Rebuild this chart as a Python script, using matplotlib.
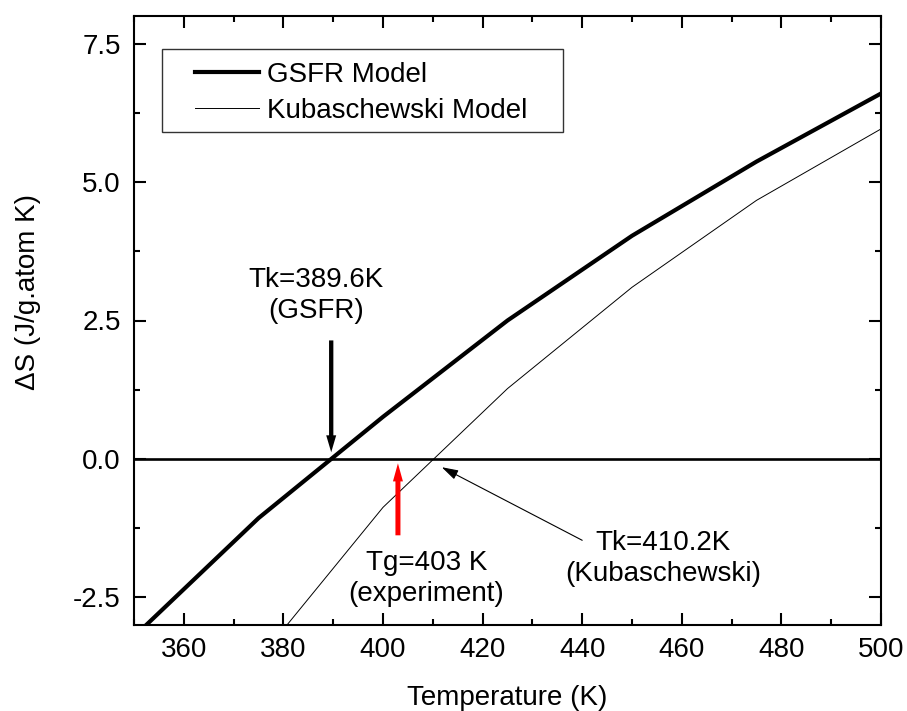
import matplotlib
matplotlib.use("Agg")
import matplotlib.pyplot as plt
from matplotlib.ticker import MultipleLocator
from matplotlib.patches import Rectangle

plt.rcParams['font.family'] = ['Liberation Sans', 'DejaVu Sans']
plt.rcParams['axes.unicode_minus'] = False

# Configurational entropy difference vs temperature
temp_gsfr = [350, 375, 400, 425, 450, 475, 500]
ds_gsfr = [-3.21, -1.07, 0.76, 2.50, 4.03, 5.37, 6.60]

temp_kub = [375, 400, 425, 450, 475, 500]
ds_kub = [-3.63, -0.875, 1.27, 3.10, 4.67, 5.96]

tk_gsfr = 389.6
tk_kub = 410.2
tg_exp = 403

fig = plt.figure(figsize=(9.07, 7.11), dpi=100)
ax = fig.add_axes([134 / 907, 1 - 625 / 711, 747 / 907, 609 / 711])

ax.axhline(0, color='black', lw=1.9, zorder=1)
ax.plot(temp_gsfr, ds_gsfr, color='black', lw=3.0, label='GSFR Model', zorder=3)
ax.plot(temp_kub, ds_kub, color='black', lw=0.7, label='Kubaschewski Model', zorder=3)

ax.set_xlim(350, 500)
ax.set_ylim(-3, 8)
ax.xaxis.set_major_locator(MultipleLocator(20))
ax.xaxis.set_minor_locator(MultipleLocator(10))
ax.yaxis.set_major_locator(MultipleLocator(2.5))
ax.yaxis.set_minor_locator(MultipleLocator(1.25))
ax.yaxis.set_major_formatter(plt.FormatStrFormatter('%.1f'))

for sp in ax.spines.values():
    sp.set_linewidth(1.5)
ax.tick_params(which='both', direction='in', top=True, right=True,
               width=1.5, labelsize=20)
ax.tick_params(which='major', length=8.6)
ax.tick_params(which='minor', length=4.3)
ax.tick_params(axis='x', pad=8.5)
ax.tick_params(axis='y', pad=9.5)

fig.text(507 / 907, 1 - 698 / 711, 'Temperature (K)', fontsize=20,
         ha='center', va='center')
fig.text(28 / 907, 1 - 292 / 711, 'ΔS (J/g.atom K)', fontsize=20,
         ha='center', va='center', rotation=90)

# Legend with a square frame
ax.add_patch(Rectangle((0.0375, 0.810), 0.537, 0.1353, transform=ax.transAxes,
                       fill=False, edgecolor='#333333', lw=1.0, zorder=4))
ax.legend(loc='upper left', bbox_to_anchor=(0.0817, 0.9244), frameon=False,
          borderpad=0, borderaxespad=0, fontsize=20, handlelength=2.3,
          handletextpad=0.29, labelspacing=0.36)

# Crossing markers
ax.annotate('', xy=(tk_gsfr, 0.12), xytext=(tk_gsfr, 2.14),
            arrowprops=dict(arrowstyle='simple,head_length=0.61,head_width=0.36,tail_width=0.155',
                            color='black', lw=0, shrinkA=0, shrinkB=0,
                            mutation_scale=20))
ax.text(386.5, 2.95, 'Tk=389.6K\n(GSFR)', fontsize=20, ha='center', va='center',
        linespacing=1.25)

ax.annotate('', xy=(tg_exp, -0.08), xytext=(tg_exp, -1.38),
            arrowprops=dict(arrowstyle='simple,head_length=0.65,head_width=0.36,tail_width=0.18',
                            color='red', lw=0, shrinkA=0, shrinkB=0,
                            mutation_scale=20))
ax.text(408.7, -2.16, 'Tg=403 K\n(experiment)', fontsize=20, ha='center', va='center',
        linespacing=1.25)

ax.annotate('', xy=(411.8, -0.15), xytext=(440.0, -1.47),
            arrowprops=dict(arrowstyle='-|>,head_length=0.5,head_width=0.15',
                            color='black', lw=0.8, shrinkA=0, shrinkB=0,
                            mutation_scale=20))
ax.text(456.2, -1.8, 'Tk=410.2K\n(Kubaschewski)', fontsize=20, ha='center', va='center',
        linespacing=1.25)

fig.savefig('out.png', dpi=100)
